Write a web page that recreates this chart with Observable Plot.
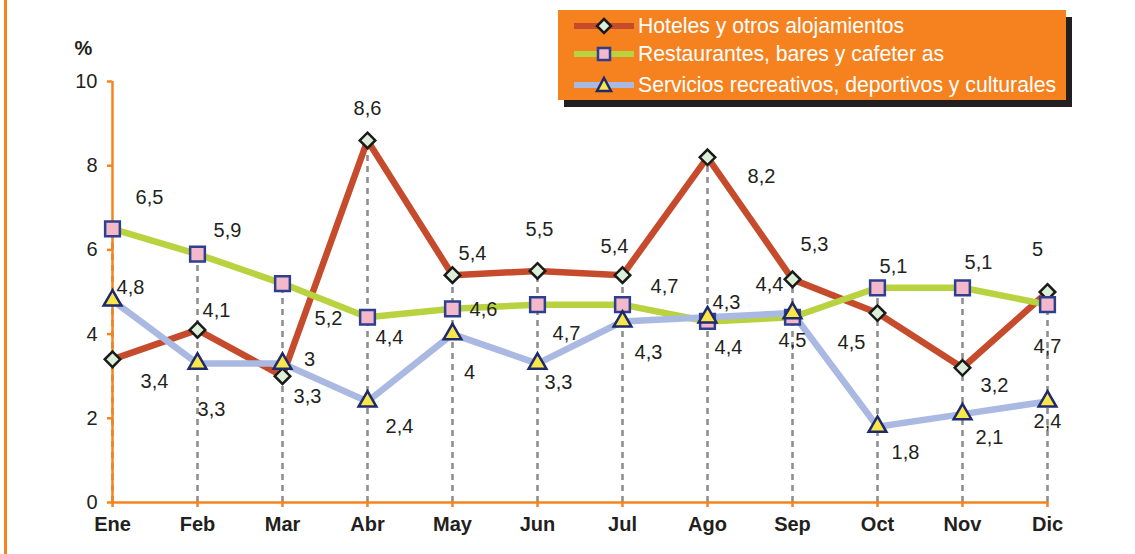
<!DOCTYPE html>
<html>
<head>
<meta charset="utf-8">
<script src="https://cdn.jsdelivr.net/npm/d3@7"></script>
<script src="https://cdn.jsdelivr.net/npm/@observablehq/plot@0.6"></script>
<style>
  html, body { margin: 0; padding: 0; background: #ffffff; }
  #wrap { position: relative; width: 1135px; height: 554px; overflow: hidden; font-family: "Liberation Sans", Arial, sans-serif; }
  #edge { position: absolute; left: 4px; top: 0; width: 3px; height: 554px; background: #f5841f; }
  #legend { position: absolute; left: 558px; top: 10px; width: 508px; height: 90px; background: #f5821f; box-shadow: 6px 7px 0 #231f20; }
  .row { position: absolute; left: 0; height: 24px; width: 508px; }
  .row svg { position: absolute; left: 14px; top: 0; }
  .row span { position: absolute; left: 80px; top: 0; line-height: 24px; font-size: 21.2px; color: #ffffff; white-space: nowrap; }
  #chart { position: absolute; left: 0; top: 0; }
</style>
</head>
<body>
<div id="wrap">
  <div id="edge"></div>
  <div id="chart"></div>
  <div id="legend"></div>
</div>
<script>
// ---- data ----
const months = ["Ene","Feb","Mar","Abr","May","Jun","Jul","Ago","Sep","Oct","Nov","Dic"];
const hoteles = [3.4, 4.1, 3.0, 8.6, 5.4, 5.5, 5.4, 8.2, 5.3, 4.5, 3.2, 5.0];
const restaurantes = [6.5, 5.9, 5.2, 4.4, 4.6, 4.7, 4.7, 4.3, 4.4, 5.1, 5.1, 4.7];
const servicios = [4.8, 3.3, 3.3, 2.4, 4.0, 3.3, 4.3, 4.4, 4.5, 1.8, 2.1, 2.4];
const yTicks = [0, 2, 4, 6, 8, 10];
const seriesNames = ["Hoteles y otros alojamientos", "Restaurantes, bares y cafeter as", "Servicios recreativos, deportivos y culturales"];
const yUnit = "%";

// ---- label placement (offsets in px from each point, as in the original) ----
const hotelLabelOffsets = [[42,22],[19,-19],[27,-17],[0,-32],[20,-22],[2,-41],[-8,-29],[54,19],[22,-35],[-26,30],[32,18],[-10,-42]];
const restLabelOffsets  = [[37,-31],[30,-24],[46,35],[22,20],[31,1],[29,29],[42,-18],[19,-19],[-23,-33],[16,-21],[16,-25],[0,42]];
const servLabelOffsets  = [[18,-13],[14,46],[25,33],[32,25],[17,38],[21,19],[26,31],[21,30],[0,28],[28,26],[27,24],[0,20]];

// ---- styles ----
const ORANGE = "#f5841f";
const INK = "#231f20";
const styles = [
  {line: "#c64b2c", symbol: "diamond2", r: 7.0, fill: "#dcefd9", stroke: "#1a1a1a"},
  {line: "#b9d340", symbol: "square", r: 8.3, fill: "#f4b8cb", stroke: "#2e3f8f"},
  {line: "#a9b9e2", symbol: "triangle", r: 6.6, fill: "#f8e64a", stroke: "#1f2a6b"}
];

const fmt = v => String(v).replace(".", ",");
const makeRows = vals => months.map((m, i) => ({month: m, value: vals[i], label: fmt(vals[i])}));
const series = [makeRows(hoteles), makeRows(restaurantes), makeRows(servicios)];
const offsets = [hotelLabelOffsets, restLabelOffsets, servLabelOffsets];
const drops = months.map((m, i) => ({month: m, top: Math.max(hoteles[i], restaurantes[i], servicios[i])}));

const lineMark = k => Plot.line(series[k], {x: "month", y: "value", stroke: styles[k].line, strokeWidth: 6.5, strokeLinejoin: "round", strokeLinecap: "butt"});
const dotMark = k => Plot.dot(series[k], {x: "month", y: "value", symbol: styles[k].symbol, r: styles[k].r, fill: styles[k].fill, stroke: styles[k].stroke, strokeWidth: 2.5});
const labelMarks = [];
series.forEach((rows, k) => rows.forEach((row, i) => {
  labelMarks.push(Plot.text([row], {x: "month", y: "value", text: "label", dx: offsets[k][i][0], dy: offsets[k][i][1], fontSize: 20, fill: INK}));
}));

const chart = Plot.plot({
  width: 1135,
  height: 554,
  marginLeft: 112,
  marginRight: 88,
  marginTop: 81,
  marginBottom: 52,
  x: {type: "point", domain: months, padding: 0},
  y: {domain: [yTicks[0], yTicks[yTicks.length - 1]]},
  style: {fontFamily: "'Liberation Sans', Arial, sans-serif", background: "transparent", overflow: "visible"},
  marks: [
    Plot.ruleX(drops, {x: "month", y1: 0, y2: "top", stroke: "#8f8f8f", strokeWidth: 2.6, strokeDasharray: "6,5"}),
    Plot.ruleY([yTicks[0]], {stroke: ORANGE, strokeWidth: 2.5}),
    Plot.ruleX([months[0]], {y1: yTicks[0], y2: yTicks[yTicks.length - 1], stroke: ORANGE, strokeWidth: 2.5}),
    Plot.axisY({ticks: yTicks, tickSize: 5, tickPadding: 10, stroke: ORANGE, strokeWidth: 2.5, fill: INK, fontSize: 20, label: null, tickFormat: d => String(d)}),
    Plot.axisX({tickSize: 5, tickPadding: 9, stroke: ORANGE, strokeWidth: 2.5, fill: INK, fontSize: 20, fontWeight: "bold", label: null}),
    lineMark(0), lineMark(1), lineMark(2),
    dotMark(0), dotMark(1), dotMark(2),
    ...labelMarks,
    Plot.text([{m: months[0], v: yTicks[yTicks.length - 1], t: yUnit}], {x: "m", y: "v", text: "t", dx: -29, dy: -33, fontSize: 20, fontWeight: "bold", fill: INK})
  ]
});
document.getElementById("chart").appendChild(chart);

// ---- legend ----
const legend = document.getElementById("legend");
const rowTops = [3.5, 32.4, 63];
seriesNames.forEach((name, k) => {
  const row = document.createElement("div");
  row.className = "row";
  row.style.top = rowTops[k] + "px";
  const s = styles[k];
  let marker = "";
  if (k === 0) marker = `<path d="M32,5 L39,12 L32,19 L25,12 Z" fill="${s.fill}" stroke="${s.stroke}" stroke-width="2.5"/>`;
  if (k === 1) marker = `<rect x="26" y="6" width="12" height="12" fill="${s.fill}" stroke="${s.stroke}" stroke-width="2.5"/>`;
  if (k === 2) marker = `<path d="M32,5 L39,18 L25,18 Z" fill="${s.fill}" stroke="${s.stroke}" stroke-width="2.5"/>`;
  row.innerHTML = `<svg width="64" height="24"><line x1="2" y1="12" x2="62" y2="12" stroke="${s.line}" stroke-width="6"/>${marker}</svg><span>${name}</span>`;
  legend.appendChild(row);
});
</script>
</body>
</html>
